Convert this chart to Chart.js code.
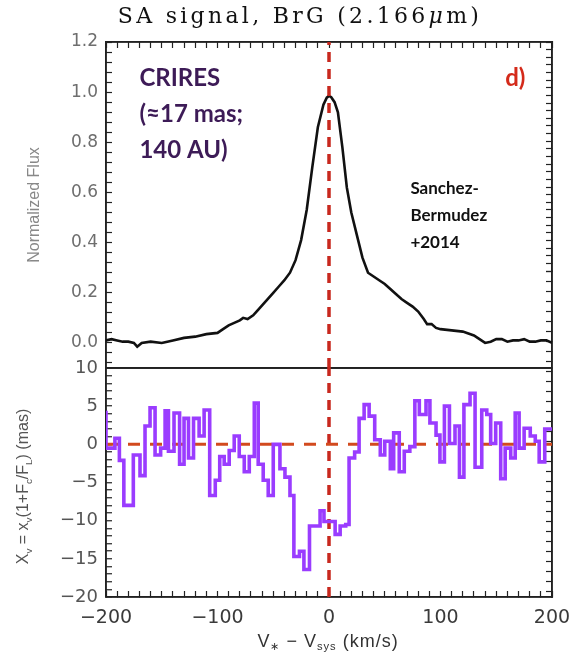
<!DOCTYPE html>
<html>
<head>
<meta charset="utf-8">
<script src="https://cdn.jsdelivr.net/npm/chart.js@4"></script>
<style>
  html, body { margin: 0; padding: 0; background: #fff; }
  #wrap { width: 572px; height: 654px; }
</style>
</head>
<body>
<div id="wrap"><canvas id="saChart" width="572" height="654"></canvas></div>
<script>
// line profile, normalized flux vs velocity (km/s)
const fluxV = [-200,-195,-190,-185,-180,-175,-172,-168,-160,-150,-145,-140,-130,-120,-110,-100,-95,-90,-85,-80,
  -77,-73,-68,-65,-60,-55,-50,-45,-40,-35,-30,-25,-20,-15,-10,-5,-2,0,2,5,
  8,12,16,20,25,30,35,40,45,50,55,60,65,70,75,80,85,88,92,96,
  100,110,120,130,135,140,145,150,155,160,165,170,175,180,185,190,195,200];
const fluxVals = [0.01,0.015,0.01,0.005,0.005,0.0,-0.015,0.0,0.005,0.0,0.005,0.01,0.02,0.025,0.035,0.04,0.055,0.07,0.08,0.09,
  0.10,0.095,0.11,0.125,0.15,0.175,0.2,0.225,0.25,0.28,0.33,0.41,0.53,0.70,0.86,0.95,0.978,0.985,0.98,0.96,
  0.92,0.78,0.62,0.52,0.43,0.34,0.28,0.265,0.25,0.235,0.215,0.195,0.175,0.16,0.145,0.125,0.095,0.075,0.075,0.06,
  0.055,0.05,0.045,0.03,0.015,0.0,0.005,0.015,0.015,0.005,0.01,0.01,0.015,0.005,0.005,0.01,0.01,0.0];

// spectro-astrometric offset per velocity bin (left edge of each bin, mas)
const binStart = [-200,-192,-188,-184,-175.5,-169.5,-165,-160.5,-156,-151,-147,-144,-139,-134,-130,-126,-121.5,-116.5,-112,-107,
  -102,-98,-94,-89.5,-85,-80.5,-76,-71.5,-67,-63.5,-59,-54.5,-50,-44,-39.5,-35,-31.5,-26.5,-22.5,-17.5,
  -8,-4.5,5.5,10,15,18,23,27,31.5,36,41,46,50,55,58,63,67.5,72.5,77,81,
  87,90.5,96,99.5,103.5,108,113,117,121,126.5,131,137,141.5,145,149.5,154,158,163,167,170.5,
  175,180.5,185,188.5,193.5,198];
const binVals = [4.4,-0.5,0.8,-2.1,-8.0,-1.4,-4.1,2.4,4.8,-1.4,-0.5,4.4,-0.9,4.1,-2.6,3.4,-1.8,3.4,1.1,4.5,
  -6.7,-4.7,-1.6,-2.6,-0.8,1.1,-1.6,-3.6,-1.6,5.4,-2.6,-4.7,-6.7,0,-3.2,-4.3,-6.7,-14.7,-14.0,-16.4,
  -10.7,-8.7,-10.1,-11.8,-10.7,-10.5,-1.8,-1.0,3.4,5.2,3.7,0.6,-1.4,0.4,-3.2,1.5,-3.6,-0.9,-0.3,5.7,
  3.9,5.7,2.8,1.2,-2.3,5.0,0.1,2.4,-4.3,5.2,6.7,-3.0,4.5,3.9,0.1,2.8,-4.5,-0.5,-1.8,4.1,
  -0.5,2.1,1.1,0.4,-2.3,2.0];

const velRange = [-200, 200];
const fluxRange = [-0.1, 1.2];
const offRange = [-20, 10];
const fluxTicks = [0, 0.2, 0.4, 0.6, 0.8, 1.0, 1.2];
const offTicks = [-20, -15, -10, -5, 0, 5, 10];
const velTicks = [-200, -100, 0, 100, 200];
// minor tick spacing on each axis
const fluxMinor = 0.04, offMinor = 1, velMinor = 10;

const fluxPoints = fluxV.map((v, i) => ({ x: v, y: fluxVals[i] }));
const histPoints = binStart.map((v, i) => ({ x: v, y: binVals[i] }));
histPoints.push({ x: velRange[1], y: binVals[binVals.length - 1] });

// closed outline of a panel, corner to corner along the axis limits
const outline = yr => [
  { x: velRange[0], y: yr[0] }, { x: velRange[0], y: yr[1] }, { x: velRange[1], y: yr[1] },
  { x: velRange[1], y: yr[0] }, { x: velRange[0], y: yr[0] }
];

const minus = s => String(s).replace('-', '\u2212');
const FRAME = '#222';

// every minor step between min and max, rounded to kill float noise
function tickRun(min, max, step) {
  const out = [];
  for (let k = Math.ceil(min / step - 1e-6); k <= Math.floor(max / step + 1e-6); k++) {
    out.push({ value: Math.round(k * step * 1000) / 1000 });
  }
  return out;
}
const isMajor = (v, majors) => majors.some(m => Math.abs(m - v) < 1e-6);

// draws a string made of normal and subscript pieces, centred on (0,0)
function richText(ctx, parts, size, family) {
  let total = 0;
  const sized = parts.map(p => {
    const fs = p.sub ? size * 0.62 : size;
    ctx.font = (p.italic ? 'italic ' : '') + fs + 'px ' + family;
    const w = ctx.measureText(p.t).width;
    total += w;
    return { ...p, fs, w };
  });
  let x = -total / 2;
  ctx.textAlign = 'left';
  ctx.textBaseline = 'middle';
  sized.forEach(p => {
    ctx.font = (p.italic ? 'italic ' : '') + p.fs + 'px ' + family;
    ctx.fillText(p.t, x, p.sub ? size * 0.3 : 0);
    x += p.w;
  });
}

const panelText = {
  id: 'panelText',
  afterDraw(chart) {
    const { ctx, scales } = chart;
    const xs = scales.x, yf = scales.yFlux, yo = scales.yOff;
    ctx.save();
    ctx.fillStyle = '#111';

    // panel title
    ctx.translate(300, 17);
    ctx.letterSpacing = '3.3px';
    richText(ctx, [
      { t: 'SA signal, BrG (2.166' },
      { t: '\u03bc', italic: true },
      { t: 'm)' }
    ], 22, '"DejaVu Serif", serif');
    ctx.setTransform(1, 0, 0, 1, 0, 0);
    ctx.letterSpacing = '0px';

    // x axis title
    ctx.fillStyle = '#333';
    ctx.translate(328, 642);
    ctx.letterSpacing = '1px';
    richText(ctx, [
      { t: 'V' }, { t: '\u2217', sub: true }, { t: ' \u2212 V' }, { t: 'sys', sub: true }, { t: ' (km/s)' }
    ], 18, '"Liberation Sans", sans-serif');
    ctx.setTransform(1, 0, 0, 1, 0, 0);
    ctx.letterSpacing = '0px';

    // offset axis title
    ctx.fillStyle = '#555';
    ctx.translate(24, (yo.top + yo.bottom) / 2 + 4);
    ctx.rotate(-Math.PI / 2);
    richText(ctx, [
      { t: 'X' }, { t: 'v', sub: true }, { t: ' = x' }, { t: 'v', sub: true },
      { t: '(1+F' }, { t: 'c', sub: true }, { t: '/F' }, { t: 'L', sub: true }, { t: ') (mas)' }
    ], 16, '"Liberation Sans", sans-serif');
    ctx.setTransform(1, 0, 0, 1, 0, 0);

    // notes inside the flux panel
    ctx.textAlign = 'left';
    ctx.textBaseline = 'middle';
    ctx.font = 'bold 24px Lato, "Open Sans", sans-serif';
    ctx.fillStyle = '#3d1b57';
    const cx = xs.getPixelForValue(-170), cy = yf.getPixelForValue(1.055);
    ['CRIRES', '(\u224817 mas;', '140 AU)'].forEach((t, i) => ctx.fillText(t, cx, cy + i * 36));

    ctx.fillStyle = '#d42a1a';
    ctx.fillText('d)', xs.getPixelForValue(158), cy);

    ctx.font = 'bold 17px Lato, "Open Sans", sans-serif';
    ctx.fillStyle = '#111';
    const sx = xs.getPixelForValue(73), sy = yf.getPixelForValue(0.617);
    ['Sanchez-', 'Bermudez', '+2014'].forEach((t, i) => ctx.fillText(t, sx, sy + i * 27));
    ctx.restore();
  }
};

// inward tick marks, no grid inside the plot
const innerTicks = { drawOnChartArea: false, drawTicks: true, tickLength: -6, tickColor: FRAME, tickWidth: 1.2 };
const frameBorder = { display: true, color: FRAME, width: 1.5 };

const redDash = { borderColor: '#c8281e', borderWidth: 3.5, borderDash: [10, 7], pointRadius: 0, fill: false };
const frameLine = { borderColor: FRAME, borderWidth: 1.6, pointRadius: 0, fill: false, clip: 4, tension: 0 };

new Chart(document.getElementById('saChart'), {
  type: 'line',
  data: {
    datasets: [
      { ...redDash, data: [{ x: 0, y: fluxRange[0] }, { x: 0, y: fluxRange[1] }], yAxisID: 'yFlux' },
      { data: fluxPoints, yAxisID: 'yFlux', borderColor: '#111', borderWidth: 2.6, pointRadius: 0, tension: 0 },
      { data: histPoints, yAxisID: 'yOff', stepped: 'after', borderColor: '#9a3cff', borderWidth: 3.6, pointRadius: 0 },
      { data: histPoints, yAxisID: 'yOff', stepped: 'after', borderColor: '#2a1cc0', borderWidth: 1.3, pointRadius: 0 },
      { ...redDash, borderColor: '#d24a1e', borderWidth: 3, borderDash: [12, 10],
        data: [{ x: velRange[0], y: 0 }, { x: velRange[1], y: 0 }], yAxisID: 'yOff' },
      { ...redDash, data: [{ x: 0, y: offRange[0] }, { x: 0, y: offRange[1] }], yAxisID: 'yOff' },
      // panel outlines, drawn underneath the data
      { ...frameLine, data: outline(fluxRange), yAxisID: 'yFlux' },
      { ...frameLine, data: outline(offRange), yAxisID: 'yOff' }
    ]
  },
  options: {
    responsive: false,
    animation: false,
    layout: { padding: { top: 42, right: 20, left: 0, bottom: 0 } },
    plugins: { legend: { display: false }, tooltip: { enabled: false } },
    scales: {
      x: {
        type: 'linear', position: 'bottom',
        min: velRange[0], max: velRange[1],
        afterBuildTicks: s => { s.ticks = tickRun(velRange[0], velRange[1], velMinor); },
        afterFit: s => { s.height = 57; s.paddingLeft = 0; s.paddingRight = 0; },
        ticks: {
          callback: v => isMajor(v, velTicks) ? minus(v) : '',
          autoSkip: false, maxRotation: 0,
          font: { family: '"DejaVu Sans", sans-serif', size: 19 }, color: '#3a3a3a', padding: 16
        },
        grid: innerTicks,
        border: frameBorder
      },
      xTop: {
        type: 'linear', position: 'top',
        min: velRange[0], max: velRange[1],
        afterBuildTicks: s => { s.ticks = tickRun(velRange[0], velRange[1], velMinor); },
        afterFit: s => { s.height = 0; s.paddingLeft = 0; s.paddingRight = 0; },
        ticks: { display: false },
        grid: innerTicks,
        border: frameBorder
      },
      // stacked axes are laid out bottom-up, so the offset panel comes first
      yOff: {
        type: 'linear', position: 'left', stack: 'panels', stackWeight: 229,
        min: offRange[0], max: offRange[1],
        afterBuildTicks: s => { s.ticks = tickRun(offRange[0], offRange[1], offMinor); },
        afterFit: s => { s.width = 106; },
        ticks: {
          callback: v => isMajor(v, offTicks) ? minus(v) : '',
          autoSkip: false,
          font: { family: '"DejaVu Sans", sans-serif', size: 18 }, color: '#555', padding: 14
        },
        // top edge of this panel is the line between the two panels
        grid: {
          ...innerTicks, drawOnChartArea: true, lineWidth: 1.5,
          color: c => (c.tick && c.tick.value === offRange[1]) ? FRAME : 'rgba(0,0,0,0)'
        },
        border: frameBorder
      },
      yFlux: {
        type: 'linear', position: 'left', stack: 'panels', stackWeight: 326,
        min: fluxRange[0], max: fluxRange[1],
        afterBuildTicks: s => { s.ticks = tickRun(fluxRange[0], fluxRange[1], fluxMinor); },
        afterFit: s => { s.width = 106; },
        ticks: {
          callback: v => isMajor(v, fluxTicks) ? v.toFixed(1) : '',
          autoSkip: false,
          font: { family: '"DejaVu Sans", sans-serif', size: 17 }, color: '#6e6e6e', padding: 14
        },
        title: { display: true, text: 'Normalized Flux', color: '#888', font: { family: '"Liberation Sans", sans-serif', size: 16 }, padding: { top: 25 } },
        grid: innerTicks,
        border: frameBorder
      },
      yOffR: {
        type: 'linear', position: 'right', stack: 'panelsR', stackWeight: 229,
        min: offRange[0], max: offRange[1],
        afterBuildTicks: s => { s.ticks = tickRun(offRange[0], offRange[1], offMinor); },
        afterFit: s => { s.width = 0; },
        ticks: { display: false },
        grid: innerTicks,
        border: frameBorder
      },
      yFluxR: {
        type: 'linear', position: 'right', stack: 'panelsR', stackWeight: 326,
        min: fluxRange[0], max: fluxRange[1],
        afterBuildTicks: s => { s.ticks = tickRun(fluxRange[0], fluxRange[1], fluxMinor); },
        afterFit: s => { s.width = 0; },
        ticks: { display: false },
        grid: innerTicks,
        border: frameBorder
      }
    }
  },
  plugins: [panelText]
});
</script>
</body>
</html>
